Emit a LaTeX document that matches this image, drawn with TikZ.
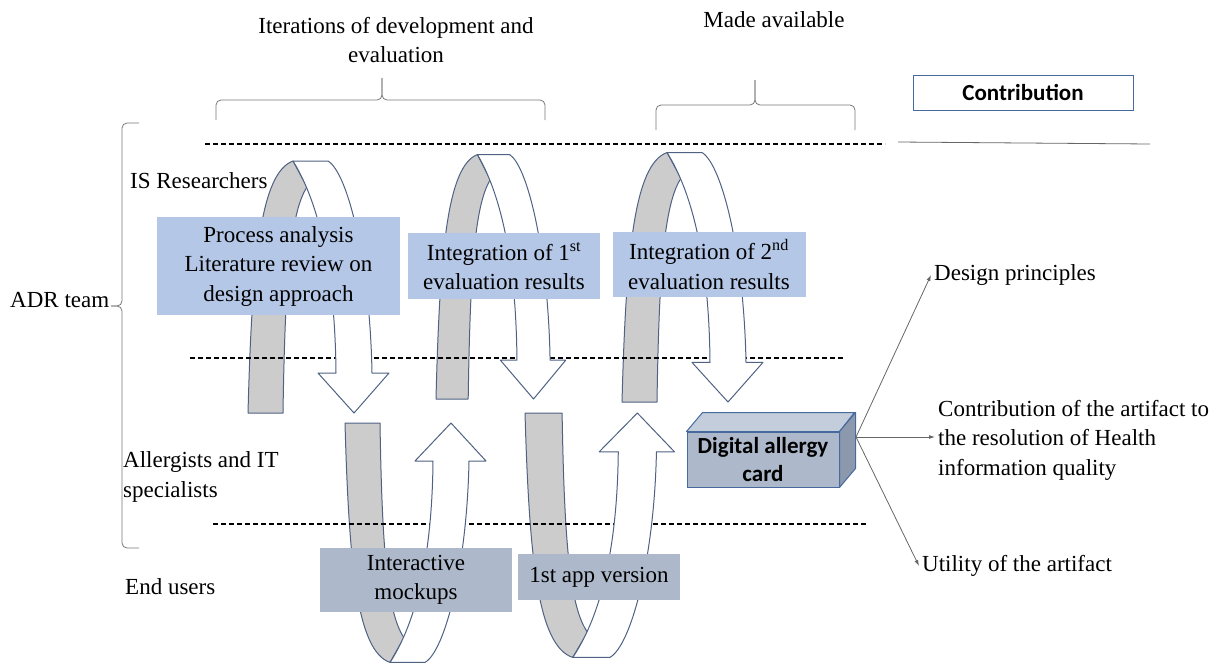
\documentclass[tikz,border=0pt]{standalone}
\usepackage{fontspec}
\setmainfont{Liberation Serif}
\newfontfamily\calibri{Carlito}
\usetikzlibrary{arrows.meta}
\definecolor{boxblue}{RGB}{180,199,231}
\definecolor{boxgray}{RGB}{173,185,202}
\definecolor{bandline}{RGB}{79,98,132}
\definecolor{bandgray}{RGB}{204,204,204}
\definecolor{cardline}{RGB}{70,106,158}
\definecolor{cardtop}{RGB}{196,205,220}
\definecolor{cardside}{RGB}{140,152,172}
\definecolor{bracegray}{RGB}{120,120,120}
\tikzset{
    backband/.style = {draw=bandline, fill=bandgray, line width=1pt, line join=round},
    frontband/.style = {draw=bandline, fill=white, line width=1pt, line join=round},
    bluebox/.style = {fill=boxblue, align=center},
    graybox/.style = {fill=boxgray, align=center},
    rowline/.style = {line width=1.3pt, dash pattern=on 5pt off 3pt},
    bracestyle/.style = {draw=bracegray, line width=0.8pt, rounded corners=5pt},
    contribarrow/.style = {draw=black!60, line width=0.8pt, -{Latex[length=6pt, width=4pt]}}
}
\begin{document}
\begin{tikzpicture}[x=1pt, y=-1pt, every node/.style={font=\fontsize{23}{29.5}\selectfont, inner sep=3pt}]
    \useasboundingbox (0, 0) rectangle (1219, 670);
    % back of the loops
    \foreach \px/\py/\sx/\sy in {248/413/1/1, 436/399/0.92/0.97, 622/402/1/0.99, 345/423/1/-0.95, 525/413/1.06/-0.97}
    {
        \begin{scope}[shift={(\px, \py)}, xscale=\sx, yscale=\sy]
            \draw [backband] (0, 0) .. controls (4, -150) and (12, -240) .. (45, -252)
                -- (59, -226) .. controls (42, -200) and (37, -130) .. (35, 0) -- cycle;
        \end{scope}
    }
    \draw [rowline] (205, 144) -- (885, 144);
    \draw [rowline] (190, 358) -- (845, 358);
    \draw [rowline] (213, 524) -- (866, 524);
    \draw [draw=black!60, line width=0.8pt] (898, 142) -- (1150, 144);
    % front of the loops
    \foreach \px/\py/\sx/\sy in {248/413/1/1, 436/399/0.92/0.97, 622/402/1/0.99, 345/423/1/-0.95, 525/413/1.06/-0.97}
    {
        \begin{scope}[shift={(\px, \py)}, xscale=\sx, yscale=\sy]
            \draw [frontband] (45, -252) -- (80, -252) .. controls (100, -240) and (122, -150) .. (124, -40)
                -- (141, -40) -- (106, 0) -- (70, -40) -- (88, -40)
                .. controls (87, -150) and (68, -215) .. (45, -252) -- cycle;
        \end{scope}
    }
    \node [bluebox, minimum width=243, minimum height=98] (proc) at (278.5, 266) {Process analysis\\Literature review on\\design approach};
    \node [bluebox, minimum width=192, minimum height=66] (integone) at (504, 266) {Integration of 1\textsuperscript{st}\\evaluation results};
    \node [bluebox, minimum width=193, minimum height=65] (integtwo) at (709, 264.5) {Integration of 2\textsuperscript{nd}\\evaluation results};
    \node [graybox, minimum width=192, minimum height=64] (mockups) at (416, 580) {Interactive\\mockups};
    \node [graybox, minimum width=162, minimum height=46] (appversion) at (599, 577) {1st app version};
    \node [draw=cardline, line width=0.8pt, minimum width=220, minimum height=35] (contrib) at (1023, 92.5) {\calibri\bfseries Contribution};
    \node [align=center] (iterations) at (396, 40) {Iterations of development and\\evaluation};
    \node (madeavail) at (774, 20) {Made available};
    % braces
    \draw [bracestyle] (216, 120) -- (216, 100) -- (382, 100) -- (382, 78);
    \draw [bracestyle] (545, 120) -- (545, 100) -- (382, 100) -- (382, 78);
    \draw [bracestyle] (656, 130) -- (656, 105) -- (755, 105) -- (755, 80);
    \draw [bracestyle] (855, 130) -- (855, 105) -- (755, 105) -- (755, 80);
    \draw [bracestyle] (139, 123) -- (122, 123) -- (122, 306) -- (111, 306);
    \draw [bracestyle] (139, 548) -- (122, 548) -- (122, 306) -- (111, 306);
    \node [anchor=west] (adr) at (7, 300) {ADR team};
    \node [anchor=west] (isresearch) at (127, 181) {IS Researchers};
    \node [anchor=west, align=left] (allergists) at (120, 477) {Allergists and IT\\specialists};
    \node [anchor=west] (endusers) at (122, 587) {End users};
    % digital allergy card
    \node [draw=cardline, fill=boxgray, line width=1pt, minimum width=152, minimum height=55, inner sep=0pt, align=center,
        font=\calibri\bfseries\fontsize{23}{28}\selectfont] (card) at (763, 459.5) {Digital allergy\\card};
    \draw [draw=cardline, fill=cardtop, line width=1pt, line join=round] (card.north west) -- ++(16, -19) -- ++(152, 0) -- (card.north east) -- cycle;
    \draw [draw=cardline, fill=cardside, line width=1pt, line join=round] (card.north east) -- ++(16, -19) -- ++(0, 56) -- (card.south east) -- cycle;
    \coordinate (cardout) at (856, 437);
    \node [anchor=west] (designpr) at (931, 275) {Design principles};
    \node [anchor=west, align=left] (healthq) at (935, 440) {Contribution of the artifact to\\the resolution of Health\\information quality};
    \node [anchor=west] (utility) at (919, 566) {Utility of the artifact};
    \draw [contribarrow] (cardout) -- (designpr.west);
    \draw [contribarrow] (cardout) -- (cardout -| healthq.west);
    \draw [contribarrow] (cardout) -- (utility.west);
\end{tikzpicture}
\end{document}
